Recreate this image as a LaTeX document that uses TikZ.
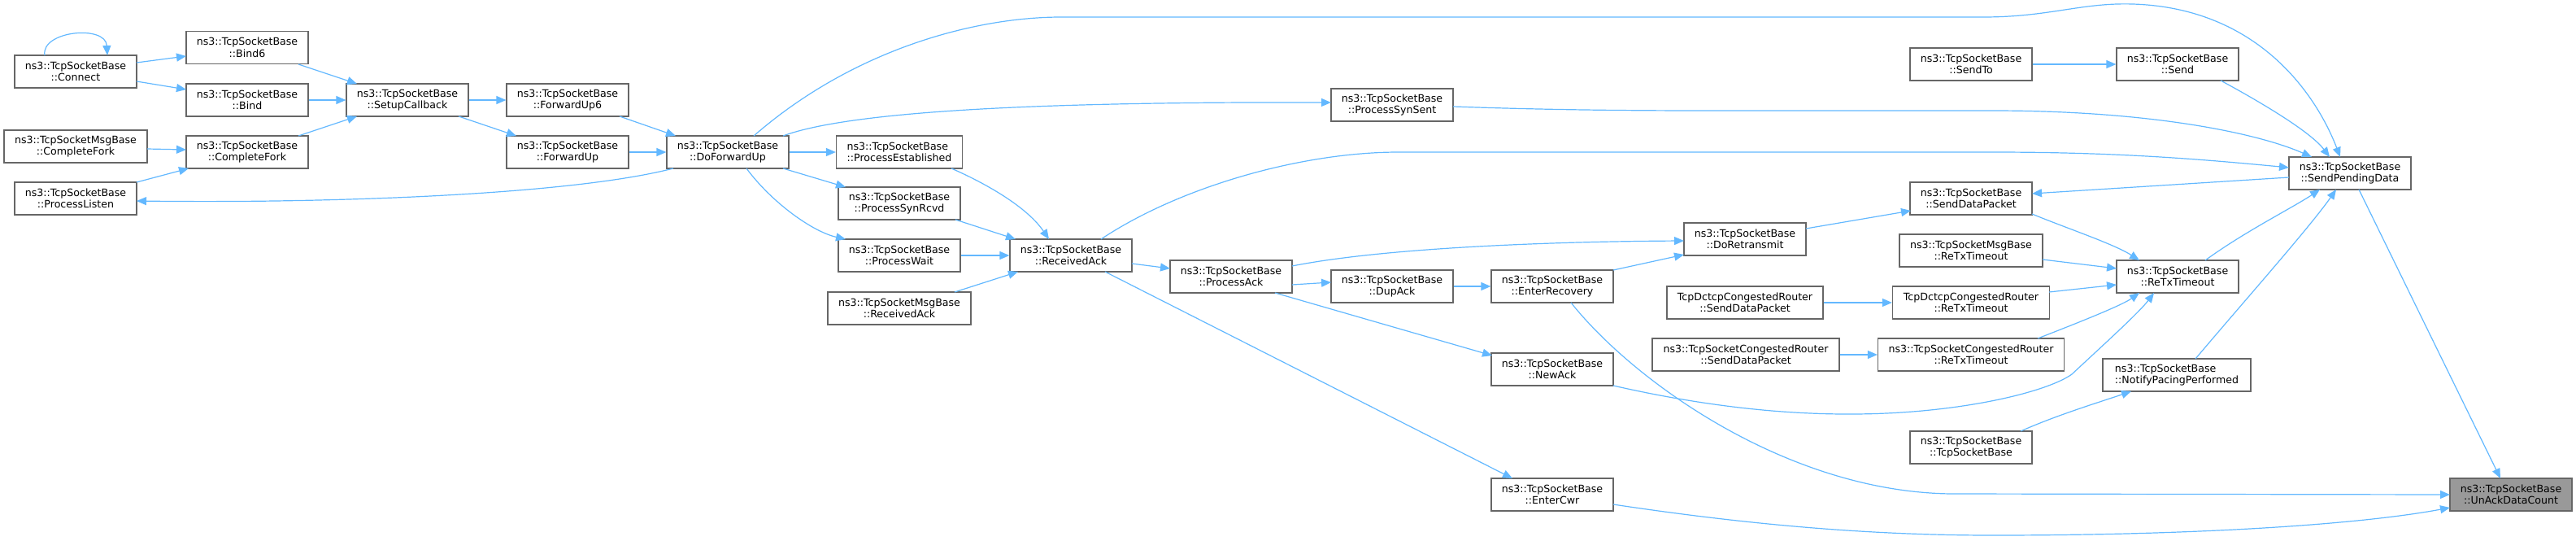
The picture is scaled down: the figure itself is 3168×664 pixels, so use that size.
\documentclass[tikz,border=0pt]{standalone}
\usepackage{fontspec}
\setmainfont{DejaVu Sans}
\usetikzlibrary{arrows.meta}
\definecolor{edgeblue}{HTML}{63B8FF}
\definecolor{boxborder}{HTML}{666666}
\definecolor{focusfill}{HTML}{999999}
\begin{document}
\begin{tikzpicture}[x=1pt,y=-1pt,
  box/.style={draw=boxborder, line width=1.2pt, fill=white, minimum width=150pt,
    minimum height=40pt, inner sep=2pt, align=center,
    font=\fontsize{12.6}{14.5}\selectfont},
  focus/.style={box, fill=focusfill},
  edge/.style={draw=edgeblue, line width=1.2pt, -{Triangle[length=12pt,width=10pt]}}]
\path[use as bounding box] (0,0) rectangle (3168,664);

% nodes
\node[box] (connect) at (93,88) {ns3::TcpSocketBase\\::Connect};
\node[box] (bindsix) at (304,58.5) {ns3::TcpSocketBase\\::Bind6};
\node[box] (bind) at (304,123) {ns3::TcpSocketBase\\::Bind};
\node[box] (cfork) at (304,187) {ns3::TcpSocketBase\\::CompleteFork};
\node[box, minimum width=176pt] (msgcfork) at (93,180) {ns3::TcpSocketMsgBase\\::CompleteFork};
\node[box] (plisten) at (93,244) {ns3::TcpSocketBase\\::ProcessListen};
\node[box] (setup) at (501,123) {ns3::TcpSocketBase\\::SetupCallback};
\node[box] (fwdsix) at (698,123) {ns3::TcpSocketBase\\::ForwardUp6};
\node[box] (fwd) at (698,187) {ns3::TcpSocketBase\\::ForwardUp};
\node[box] (dofwd) at (895,187) {ns3::TcpSocketBase\\::DoForwardUp};
\node[box, minimum width=155pt, align=left] (pest) at (1106,187) {ns3::TcpSocketBase\\::ProcessEstablished};
\node[box] (psynrcvd) at (1106,250) {ns3::TcpSocketBase\\::ProcessSynRcvd};
\node[box] (pwait) at (1106,314) {ns3::TcpSocketBase\\::ProcessWait};
\node[box, minimum width=176pt] (msgrack) at (1106,379) {ns3::TcpSocketMsgBase\\::ReceivedAck};
\node[box] (rack) at (1317,314) {ns3::TcpSocketBase\\::ReceivedAck};
\node[box] (pack) at (1514,340) {ns3::TcpSocketBase\\::ProcessAck};
\node[box] (psynsent) at (1712,129) {ns3::TcpSocketBase\\::ProcessSynSent};
\node[box] (dupack) at (1712,352) {ns3::TcpSocketBase\\::DupAck};
\node[box] (enterrec) at (1909,352) {ns3::TcpSocketBase\\::EnterRecovery};
\node[box] (newack) at (1909,454) {ns3::TcpSocketBase\\::NewAck};
\node[box] (entercwr) at (1909,608) {ns3::TcpSocketBase\\::EnterCwr};
\node[box] (doretx) at (2146,294) {ns3::TcpSocketBase\\::DoRetransmit};
\node[box, minimum width=192pt] (dctcpsdp) at (2146,372) {TcpDctcpCongestedRouter\\::SendDataPacket};
\node[box, minimum width=230pt] (congsdp) at (2147,436) {ns3::TcpSocketCongestedRouter\\::SendDataPacket};
\node[box] (sendto) at (2424,79) {ns3::TcpSocketBase\\::SendTo};
\node[box] (sdp) at (2424,244) {ns3::TcpSocketBase\\::SendDataPacket};
\node[box, minimum width=176pt] (msgretx) at (2424,308) {ns3::TcpSocketMsgBase\\::ReTxTimeout};
\node[box, minimum width=193pt] (dctcpretx) at (2424,372) {TcpDctcpCongestedRouter\\::ReTxTimeout};
\node[box, minimum width=229pt] (congretx) at (2424,436) {ns3::TcpSocketCongestedRouter\\::ReTxTimeout};
\node[box] (tsb) at (2424,550) {ns3::TcpSocketBase\\::TcpSocketBase};
\node[box] (send) at (2678,79) {ns3::TcpSocketBase\\::Send};
\node[box] (retx) at (2678,340) {ns3::TcpSocketBase\\::ReTxTimeout};
\node[box, minimum width=182pt, align=left] (npp) at (2677,461) {ns3::TcpSocketBase\\::NotifyPacingPerformed};
\node[box] (spd) at (2890,213) {ns3::TcpSocketBase\\::SendPendingData};
\node[focus] (unack) at (3088,608) {ns3::TcpSocketBase\\::UnAckDataCount};

% edges
\draw[edge] ([shift={(-38,-20)}]connect.center) .. controls +(-5,-30) and +(-2,-38) .. ([shift={(39,-20)}]connect.center);
\draw[edge] ([shift={(75,-11)}]connect.center) -- ([shift={(-75,10.5)}]bindsix.center);
\draw[edge] ([shift={(75,12)}]connect.center) -- ([shift={(-75,-13)}]bind.center);
\draw[edge] ([shift={(63,20.5)}]bindsix.center) -- ([shift={(-62,-20)}]setup.center);
\draw[edge] (bind.east) -- (setup.west);
\draw[edge] ([shift={(63,-20)}]cfork.center) -- ([shift={(-62,20)}]setup.center);
\draw[edge] ([shift={(88,3)}]msgcfork.center) -- ([shift={(-75,-3)}]cfork.center);
\draw[edge] ([shift={(75,-20)}]plisten.center) -- ([shift={(-72,20)}]cfork.center);
\draw[edge] (setup.east) -- (fwdsix.west);
\draw[edge] ([shift={(63,20)}]setup.center) -- ([shift={(-63,-20)}]fwd.center);
\draw[edge] ([shift={(64,20)}]fwdsix.center) -- ([shift={(-64,-20)}]dofwd.center);
\draw[edge] (fwd.east) -- (dofwd.west);
\draw[edge] ([shift={(-67,20)}]dofwd.center) .. controls (700,240) and (400,250) .. ([shift={(75,3)}]plisten.center);
\draw[edge] (dofwd.east) -- (pest.west);
\draw[edge] ([shift={(68,20)}]dofwd.center) -- ([shift={(-66,-20)}]psynrcvd.center);
\draw[edge] ([shift={(23,20)}]dofwd.center) .. controls (950,250) and (1000,285) .. ([shift={(-66,-20)}]pwait.center);
\draw[edge] ([shift={(32,-20)}]dofwd.center) .. controls (1050,60) and (1200,21) .. (1305,21) -- (2439,21) .. controls (2520,21) and (2560,3) .. (2623,5) .. controls (2780,10) and (2850,120) .. ([shift={(-12,-20)}]spd.center);
\draw[edge] ([shift={(68,-20)}]dofwd.center) .. controls (1050,135) and (1300,125) .. ([shift={(-75,-3)}]psynsent.center);
\draw[edge] ([shift={(64,20)}]pest.center) .. controls (1200,220) and (1260,250) .. ([shift={(-27,-20)}]rack.center);
\draw[edge] ([shift={(69,20)}]psynrcvd.center) -- ([shift={(-68,-20)}]rack.center);
\draw[edge] (pwait.east) -- (rack.west);
\draw[edge] ([shift={(68,-20)}]msgrack.center) -- ([shift={(-65,20)}]rack.center);
\draw[edge] ([shift={(37,-20)}]rack.center) .. controls (1450,230) and (1600,187) .. (1720,187) -- (2450,187) .. controls (2600,187) and (2700,195) .. ([shift={(-75,-7)}]spd.center);
\draw[edge] ([shift={(75,10)}]rack.center) -- ([shift={(-75,-10)}]pack.center);
\draw[edge] ([shift={(42,20)}]rack.center) -- ([shift={(-49,-20)}]entercwr.center);
\draw[edge] ([shift={(75,2)}]psynsent.center) .. controls (1900,135) and (2000,136) .. (2100,136) -- (2450,136) .. controls (2650,136) and (2780,165) .. ([shift={(-47,-20)}]spd.center);
\draw[edge] ([shift={(75,-13)}]pack.center) .. controls (1700,305) and (1900,297) .. ([shift={(-75,2)}]doretx.center);
\draw[edge] ([shift={(75,10)}]pack.center) -- ([shift={(-75,-5)}]dupack.center);
\draw[edge] ([shift={(54,20)}]pack.center) -- ([shift={(-74,-17)}]newack.center);
\draw[edge] (dupack.east) -- (enterrec.west);
\draw[edge] ([shift={(75,-20)}]enterrec.center) -- ([shift={(-75,19)}]doretx.center);
\draw[edge] ([shift={(23,20)}]enterrec.center) .. controls (2010,470) and (2200,605) .. (2400,607) -- ([shift={(-75,0)}]unack.center);
\draw[edge] ([shift={(75,-13)}]doretx.center) -- ([shift={(-74,15)}]sdp.center);
\draw[edge] (sendto.east) -- (send.west);
\draw[edge] ([shift={(53,20)}]send.center) .. controls (2770,120) and (2840,160) .. ([shift={(-25,-20)}]spd.center);
\draw[edge] ([shift={(-75,5)}]spd.center) -- ([shift={(75,-6)}]sdp.center);
\draw[edge] ([shift={(75,19)}]sdp.center) .. controls (2540,280) and (2600,300) .. ([shift={(-47,-20)}]retx.center);
\draw[edge] ([shift={(88,11)}]msgretx.center) -- ([shift={(-75,-10)}]retx.center);
\draw[edge] ([shift={(96,-13)}]dctcpretx.center) -- ([shift={(-75,10)}]retx.center);
\draw[edge] ([shift={(82,-20)}]congretx.center) .. controls (2560,395) and (2610,375) .. ([shift={(-47,20)}]retx.center);
\draw[edge] ([shift={(75,20)}]newack.center) .. controls (2120,505) and (2230,512) .. (2320,508) .. controls (2430,503) and (2520,480) .. (2548,460) .. controls (2580,430) and (2630,385) .. ([shift={(-29,20)}]retx.center);
\draw[edge] ([shift={(34,-20)}]retx.center) .. controls (2760,285) and (2820,255) .. ([shift={(-37,20)}]spd.center);
\draw[edge] ([shift={(23,-20)}]npp.center) .. controls (2760,370) and (2840,280) .. ([shift={(-17,20)}]spd.center);
\draw[edge] ([shift={(61,-20)}]tsb.center) .. controls (2530,510) and (2580,495) .. ([shift={(-56,20)}]npp.center);
\draw[edge] (dctcpsdp.east) -- (dctcpretx.west);
\draw[edge] (congsdp.east) -- (congretx.west);
\draw[edge] ([shift={(11,20)}]spd.center) -- ([shift={(-13,-20)}]unack.center);
\draw[edge] ([shift={(75,12)}]entercwr.center) .. controls (2150,645) and (2300,658) .. (2450,658) .. controls (2700,658) and (2900,645) .. ([shift={(-75,16)}]unack.center);
\end{tikzpicture}
\end{document}
